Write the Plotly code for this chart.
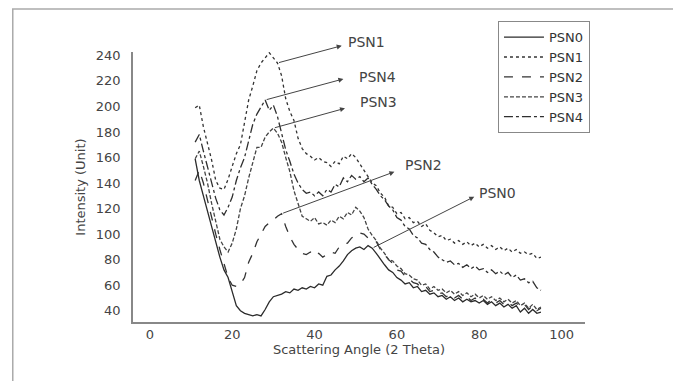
import plotly.graph_objects as go

# Scattering angle (2 theta), one reading per degree
angle = list(range(11, 96))

psn0 = [159, 142, 130, 118, 104, 92, 82, 72, 66, 55,
        44, 40, 38, 37, 36, 37, 36, 41, 47, 51,
        52, 53, 55, 54, 57, 56, 58, 57, 59, 58,
        61, 60, 67, 68, 72, 75, 79, 84, 87, 89,
        90, 88, 91, 89, 85, 80, 76, 72, 70, 66,
        64, 61, 62, 58, 59, 55, 56, 53, 54, 51,
        52, 49, 51, 48, 50, 47, 49, 47, 48, 46,
        48, 45, 47, 44, 46, 43, 45, 42, 44, 39,
        42, 38, 41, 38, 39]

psn1 = [199, 201, 184, 172, 158, 142, 136, 135, 143, 153,
        163, 170, 189, 205, 216, 228, 234, 238, 242, 238,
        234, 224, 206, 196, 189, 175, 167, 163, 161, 158,
        160, 157, 156, 153, 157, 155, 161, 159, 163, 160,
        155, 150, 146, 140, 138, 132, 129, 122, 121, 116,
        117, 112, 113, 109, 110, 106, 108, 103, 101, 98,
        99, 95, 96, 93, 95, 92, 94, 91, 93, 90,
        92, 89, 91, 88, 90, 87, 89, 86, 88, 85,
        86, 84, 85, 81, 82]

psn2 = [142, 150, 140, 126, 113, 100, 88, 76, 66, 60,
        59, 61, 66, 78, 85, 94, 100, 106, 109, 111,
        114, 116, 106, 98, 92, 88, 85, 84, 86, 83,
        85, 82, 84, 86, 85, 90, 92, 93, 97, 99,
        101, 100, 97, 95, 94, 88, 84, 80, 77, 72,
        71, 67, 65, 62, 61, 58, 59, 55, 56, 53,
        54, 51, 53, 50, 52, 49, 51, 48, 50, 47,
        49, 46, 49, 46, 48, 45, 47, 44, 46, 43,
        45, 41, 44, 40, 42]

psn3 = [159, 165, 153, 140, 124, 110, 96, 90, 86, 93,
        104, 120, 130, 144, 156, 168, 168, 176, 180, 183,
        179, 172, 160, 149, 134, 123, 114, 112, 110, 113,
        108, 109, 107, 111, 109, 114, 112, 117, 115, 121,
        118, 113, 104, 99, 95, 89, 85, 80, 79, 75,
        73, 69, 68, 65, 64, 60, 61, 57, 59, 56,
        57, 54, 56, 53, 55, 52, 54, 51, 53, 50,
        52, 49, 51, 48, 50, 47, 49, 46, 48, 44,
        46, 42, 45, 41, 43]

psn4 = [172, 178, 165, 152, 141, 128, 119, 115, 121, 129,
        142, 152, 160, 173, 186, 194, 200, 205, 197, 201,
        192, 178, 166, 157, 147, 140, 135, 132, 133, 130,
        133, 130, 135, 133, 139, 137, 144, 141, 146, 143,
        145, 141, 144, 139, 135, 130, 127, 122, 119, 113,
        111, 106, 104, 99, 97, 93, 92, 88, 86, 82,
        80, 78, 79, 76, 77, 74, 76, 73, 75, 72,
        73, 70, 72, 69, 71, 68, 70, 66, 68, 64,
        65, 62, 63, 58, 56]

names = ["PSN0", "PSN1", "PSN2", "PSN3", "PSN4"]
series = [psn0, psn1, psn2, psn3, psn4]
dashes = ["solid", "dot", "dash", "4px,2px", "dashdot"]
colors = ["#2b2b2b", "#333333", "#333333", "#444444", "#2f2f2f"]

x_ticks = [0, 20, 40, 60, 80, 100]
y_ticks = [40, 60, 80, 100, 120, 140, 160, 180, 200, 220, 240]

Y_RANGE = [31.2, 242.6]

fig = go.Figure()
for n, s, d, c in zip(names, series, dashes, colors):
    fig.add_trace(go.Scatter(x=angle, y=s, mode="lines", name=n,
                             line=dict(color=c, width=1.3, dash=d)))


def ypaper(v):
    return (v - Y_RANGE[0]) / (Y_RANGE[1] - Y_RANGE[0])


# arrow annotations: (label, series, index of the point on the curve, arrow head, text position)
labels = [
    ("PSN1", psn1, 20, (46.6, 247.5), (47.6, 250.5)),
    ("PSN4", psn4, 17, (47.0, 221.5), (50.3, 223.0)),
    ("PSN3", psn3, 19, (47.4, 198.5), (50.5, 203.5)),
    ("PSN2", psn2, 21, (59.4, 148.8), (61.5, 154.0)),
    ("PSN0", psn0, 43, (78.8, 129.3), (79.5, 132.4)),
]
tfont = dict(family="DejaVu Sans", size=14, color="#444444")
for name, s, i, head, tpos in labels:
    fig.add_annotation(x=head[0], y=head[1], ax=angle[i], ay=s[i],
                       xref="x", yref="y", axref="x", ayref="y",
                       text="", showarrow=True, arrowhead=2, arrowsize=1,
                       arrowwidth=1, arrowcolor="#444444")
    fig.add_annotation(x=tpos[0], y=ypaper(tpos[1]), xref="x", yref="paper",
                       text=name, showarrow=False, xanchor="left",
                       yanchor="middle", font=tfont)

# outer frame
fig.add_shape(type="rect", xref="paper", yref="paper",
              x0=-0.266, x1=1.3, y0=-0.35, y1=1.159,
              line=dict(color="#aaaaaa", width=1.5), layer="below")

axis_font = dict(family="DejaVu Sans", size=13, color="#444444")
fig.update_layout(
    width=673, height=373,
    margin=dict(l=125, r=96, t=44, b=59),
    paper_bgcolor="white", plot_bgcolor="white",
    showlegend=True,
    legend=dict(x=0.807, y=1.115, xanchor="left", yanchor="top",
                bordercolor="#888888", borderwidth=1.2, bgcolor="white",
                font=dict(family="DejaVu Sans", size=13, color="#333333"),
                itemwidth=40, tracegroupgap=0),
    xaxis=dict(range=[-4.1, 105.7], tickvals=x_ticks, showgrid=False,
               zeroline=False, showline=True, linecolor="#888888", linewidth=1.5,
               ticks="", ticklen=0, tickfont=axis_font,
               title=dict(text="Scattering Angle (2 Theta)",
                          font=dict(family="DejaVu Sans", size=13, color="#444444"),
                          standoff=0)),
    yaxis=dict(range=Y_RANGE, tickvals=y_ticks, showgrid=False,
               zeroline=False, showline=True, linecolor="#888888", linewidth=1.5,
               ticks="", ticklen=0, ticklabelstandoff=8, tickfont=axis_font,
               title=dict(text="Intensity (Unit)",
                          font=dict(family="DejaVu Sans", size=13, color="#444444"),
                          standoff=7)),
)

fig.write_html("out.html")
